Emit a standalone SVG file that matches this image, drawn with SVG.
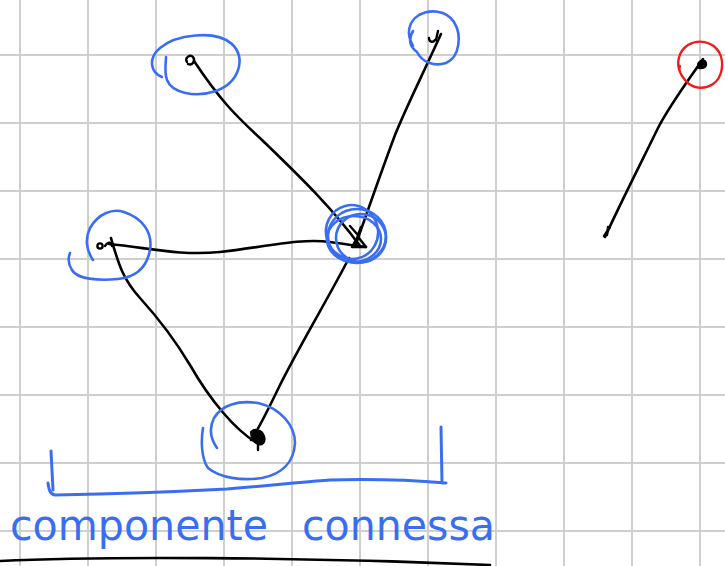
<svg xmlns="http://www.w3.org/2000/svg" width="725" height="566" viewBox="0 0 725 566">
  <style>
    .grid line { stroke: #cfcfcf; stroke-width: 2; }
    .edge { fill: none; stroke: #000; stroke-width: 2.6; stroke-linecap: round; stroke-linejoin: round; }
    .mark { fill: none; stroke: #000; stroke-width: 2.4; stroke-linecap: round; stroke-linejoin: round; }
    .ring { fill: none; stroke: #3a6ef2; stroke-width: 2.6; stroke-linecap: round; stroke-linejoin: round; }
    .ring-red { fill: none; stroke: #ee1c1c; stroke-width: 2.4; stroke-linecap: round; }
    .note { fill: none; stroke: #3a6ef2; stroke-width: 3; stroke-linecap: round; stroke-linejoin: round; }
    .label { fill: #3a6ef2; font-family: "DejaVu Sans", "Liberation Sans", sans-serif; font-size: 42px; }
  </style>

  <rect width="725" height="566" fill="#ffffff"/>

  <!-- squared paper -->
  <g class="grid">
    <line x1="20" y1="0" x2="20" y2="566"/>
    <line x1="88" y1="0" x2="88" y2="566"/>
    <line x1="156" y1="0" x2="156" y2="566"/>
    <line x1="224" y1="0" x2="224" y2="566"/>
    <line x1="292" y1="0" x2="292" y2="566"/>
    <line x1="360" y1="0" x2="360" y2="566"/>
    <line x1="428" y1="0" x2="428" y2="566"/>
    <line x1="496" y1="0" x2="496" y2="566"/>
    <line x1="564" y1="0" x2="564" y2="566"/>
    <line x1="632" y1="0" x2="632" y2="566"/>
    <line x1="700" y1="0" x2="700" y2="566"/>
    <line x1="0" y1="55" x2="725" y2="55"/>
    <line x1="0" y1="123" x2="725" y2="123"/>
    <line x1="0" y1="191" x2="725" y2="191"/>
    <line x1="0" y1="259" x2="725" y2="259"/>
    <line x1="0" y1="327" x2="725" y2="327"/>
    <line x1="0" y1="395" x2="725" y2="395"/>
    <line x1="0" y1="463" x2="725" y2="463"/>
    <line x1="0" y1="531" x2="725" y2="531"/>
  </g>

  <!-- edges -->
  <g id="connectors">
    <path class="edge" d="M194,61 C220,100 235,115 262,140 C295,172 330,205 360,246"/>
    <path class="edge" d="M441,34 C420,80 405,110 395,135 C380,175 368,210 356,244"/>
    <path class="edge" d="M109,244 C150,248 180,256 220,252 C265,247 300,238 330,242 C345,244 355,246 366,247"/>
    <path class="edge" d="M111,238 C118,262 122,278 140,298 C160,320 175,340 190,365 C210,400 235,430 257,443"/>
    <path class="edge" d="M349,258 C330,295 300,345 280,385 C268,410 258,430 251,440"/>
    <path class="edge" d="M703,59 C685,85 670,105 658,128 C640,165 622,200 605,237"/>
  </g>

  <!-- node marks and rings -->
  <g id="node-a">
    <path class="ring" d="M162,77 C150,72 148,58 160,48 C175,35 215,29 232,44 C246,58 240,82 216,91 C195,98 172,93 167,80 C164,72 166,62 166,57"/>
    <path class="mark" d="M187,62 C184,58 190,54 193,57 C196,61 192,66 188,64"/>
  </g>

  <g id="node-b">
    <path class="ring" d="M413,31 C408,40 410,47 417,52 C422,62 434,67 446,63 C460,57 462,35 454,22 C446,10 430,9 419,15 C408,22 406,34 413,46"/>
    <path class="mark" d="M429,38 C429,42 433,43 435,40 M438,31 L436,40"/>
  </g>

  <g id="node-c">
    <ellipse class="ring" cx="357" cy="236" rx="29" ry="27"/>
    <ellipse class="ring" cx="352" cy="232" rx="26" ry="27" transform="rotate(-15 352 232)"/>
    <ellipse class="ring" cx="361" cy="238" rx="25" ry="24"/>
    <ellipse class="ring" cx="354" cy="239" rx="27" ry="23"/>
    <path class="mark" d="M350,226 L357,234 M361,227 L357,238 L352,247 L366,247 L359,238"/>
  </g>

  <g id="node-d">
    <path class="ring" d="M93,260 C86,250 85,238 90,228 C98,214 112,208 124,212 C142,218 153,232 150,250 C147,266 138,277 118,279 C98,281 77,279 72,270 C68,264 68,258 70,253"/>
    <circle cx="100" cy="246" r="2.6" fill="none" stroke="#000" stroke-width="2.4"/>
    <path class="mark" d="M105,246 C108,241 112,242 112,246"/>
  </g>

  <g id="node-e">
    <path class="ring" d="M217,448 C210,438 209,428 214,418 C222,405 238,400 258,403 C280,408 295,425 295,443 C294,462 282,474 262,478 C242,481 220,478 208,468 C201,458 201,440 203,428"/>
    <path d="M251,432 C255,428 262,430 264,436 C266,442 262,446 258,444 C254,442 251,438 251,432 Z" fill="#000" stroke="#000" stroke-width="2"/>
    <path class="mark" d="M258,444 L258,450"/>
  </g>

  <g id="node-f">
    <path class="ring-red" d="M680,72 C676,62 679,51 688,45 C698,39 712,41 719,52 C725,63 722,78 713,84 C704,90 692,89 685,80 C680,74 678,70 680,66"/>
    <path d="M698,64 C700,60 705,59 706,63 C707,67 703,69 699,68 Z" fill="#000" stroke="#000" stroke-width="2"/>
    <path class="mark" d="M608,227 L607,235 M610,227 L604,236"/>
  </g>

  <!-- bracket and caption -->
  <g id="bracket">
    <path class="note" d="M51,451 L53,490 M48,483 C49,490 50,494 55,495 C110,494 170,492 227,489 C280,485 310,481 330,480 C370,479 410,480 446,483 M441,427 L442,483"/>
  </g>

  <g id="caption">
    <text class="label" x="10" y="540" textLength="258" lengthAdjust="spacingAndGlyphs">componente</text>
    <text class="label" x="302" y="540" textLength="193" lengthAdjust="spacingAndGlyphs">connessa</text>
  </g>

  <path class="edge" d="M0,561 C100,556 300,557 490,565" stroke-width="3"/>
</svg>
